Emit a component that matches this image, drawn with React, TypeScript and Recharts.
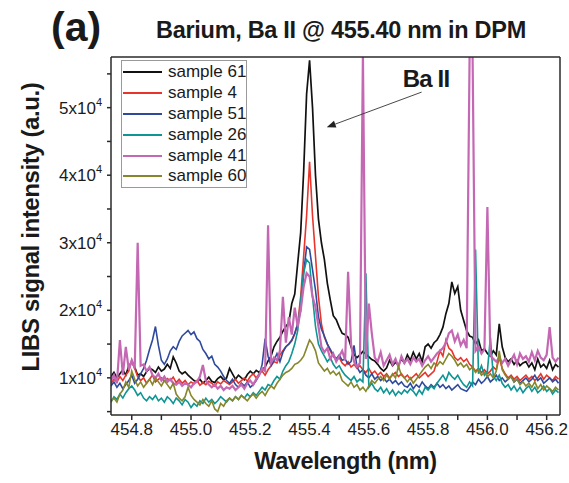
import { LineChart, Line, XAxis, YAxis, Legend, ReferenceLine, ReferenceDot } from 'recharts';

// wavelength grid (nm)
const wavelengths = [
  454.73, 454.74, 454.75, 454.76, 454.77, 454.78, 454.79, 454.80, 454.81, 454.82,
  454.83, 454.84, 454.85, 454.86, 454.87, 454.88, 454.89, 454.90, 454.91, 454.92,
  454.93, 454.94, 454.95, 454.96, 454.97, 454.98, 454.99, 455.00, 455.01, 455.02,
  455.03, 455.04, 455.05, 455.06, 455.07, 455.08, 455.09, 455.10, 455.11, 455.12,
  455.13, 455.14, 455.15, 455.16, 455.17, 455.18, 455.19, 455.20, 455.21, 455.22,
  455.23, 455.24, 455.25, 455.26, 455.27, 455.28, 455.29, 455.30, 455.31, 455.32,
  455.33, 455.34, 455.35, 455.36, 455.37, 455.38, 455.39, 455.40, 455.41, 455.42,
  455.43, 455.44, 455.45, 455.46, 455.47, 455.48, 455.49, 455.50, 455.51, 455.52,
  455.53, 455.54, 455.55, 455.56, 455.57, 455.58, 455.59, 455.60, 455.61, 455.62,
  455.63, 455.64, 455.65, 455.66, 455.67, 455.68, 455.69, 455.70, 455.71, 455.72,
  455.73, 455.74, 455.75, 455.76, 455.77, 455.78, 455.79, 455.80, 455.81, 455.82,
  455.83, 455.84, 455.85, 455.86, 455.87, 455.88, 455.89, 455.90, 455.91, 455.92,
  455.93, 455.94, 455.95, 455.96, 455.97, 455.98, 455.99, 456.00, 456.01, 456.02,
  456.03, 456.04, 456.05, 456.06, 456.07, 456.08, 456.09, 456.10, 456.11, 456.12,
  456.13, 456.14, 456.15, 456.16, 456.17, 456.18, 456.19, 456.20, 456.21, 456.22,
  456.23, 456.24,
];

// intensities in units of 10^3 a.u.
const sample61 = [
  10.2, 10.8, 10.0, 10.6, 11.2, 10.4, 11.8, 12.3, 11.6, 10.4,
  10.6, 10.2, 10.9, 11.4, 11.2, 10.8, 11.6, 11.0, 11.3, 12.0,
  11.4, 13.1, 12.2, 11.0, 10.6, 10.9, 10.4, 10.0, 9.6, 9.4,
  9.8, 9.2, 9.6, 10.1, 9.5, 9.3, 9.9, 10.2, 9.7, 10.0,
  11.4, 10.6, 9.8, 10.4, 10.0, 9.7, 10.5, 11.0, 10.6, 11.1,
  10.8, 11.2, 11.6, 12.5, 13.2, 14.6, 15.4, 16.0, 16.9, 17.6,
  18.2, 21.0, 22.4, 27.0, 31.5, 40.5, 52.0, 57.0, 50.0, 40.0,
  33.5, 30.0, 27.5, 24.0, 21.5, 19.2, 18.6, 17.5, 16.6, 16.4,
  16.0, 14.6, 13.4, 13.0, 13.4, 13.9, 13.5, 13.1, 12.7, 12.5,
  12.0, 11.4, 11.0, 11.5, 12.6, 11.8, 12.3, 11.9, 12.8, 12.2,
  13.4, 12.6, 13.8, 12.8, 13.6, 12.4, 14.6, 15.0, 14.4, 15.2,
  15.6, 16.4, 17.5, 19.5, 21.0, 24.2, 22.5, 23.5, 20.0, 18.5,
  17.0, 16.2, 16.0, 15.0, 15.6, 14.0, 14.3, 13.6, 13.2, 14.0,
  13.4, 18.0, 14.6, 13.0, 12.4, 12.8, 12.0, 12.6, 11.8, 12.2,
  12.4, 11.6, 12.2, 11.2, 12.8, 11.6, 12.0, 11.4, 12.6, 11.2,
  12.0, 11.6,
];

const sample4 = [
  9.2, 9.8, 9.4, 10.2, 9.6, 10.4, 11.0, 12.6, 11.4, 10.2,
  9.6, 10.0, 9.2, 9.8, 10.4, 9.4, 9.8, 10.0, 9.5, 9.9,
  9.6, 10.1, 9.3, 9.8, 9.2, 9.6, 9.0, 9.4, 9.1, 9.6,
  8.9, 9.3, 9.0, 9.5, 9.2, 8.8, 9.4, 9.1, 9.6, 9.3,
  9.0, 9.4, 9.8, 9.2, 9.6, 10.0, 9.5, 10.2, 10.6, 10.0,
  10.6, 11.0, 10.4, 11.2, 11.8, 12.4, 12.2, 13.4, 14.0, 14.6,
  15.0, 15.5, 16.5, 18.0, 22.0, 28.0, 34.0, 42.0, 34.0, 28.0,
  22.0, 18.0, 16.0, 15.0, 14.0, 13.2, 12.6, 13.0, 12.2, 11.8,
  12.4, 11.6, 12.0, 11.4, 11.8, 11.2, 10.8, 11.4, 10.6, 11.0,
  10.4, 10.8, 10.2, 10.6, 10.0, 10.4, 10.8, 10.2, 10.6, 10.0,
  10.4, 9.8, 10.2, 10.6, 10.0, 10.4, 10.8, 10.2, 10.6, 11.0,
  12.4, 14.0, 13.2, 15.6, 14.4, 14.0, 13.0, 12.6, 13.0, 12.4,
  12.8, 12.0, 11.6, 11.0, 11.4, 10.8, 11.2, 10.6, 11.0, 11.6,
  11.2, 13.0, 11.4, 10.6, 10.0, 10.4, 9.8, 10.2, 9.6, 10.0,
  10.4, 9.8, 10.2, 9.6, 10.0, 10.6, 9.8, 10.4, 10.0, 9.6,
  10.2, 9.8,
];

const sample51 = [
  8.8, 9.4, 8.6, 9.2, 8.4, 9.0, 9.6, 10.4, 9.2, 9.8,
  10.6, 11.4, 12.6, 14.2, 15.6, 17.6, 14.8, 12.6, 12.0, 12.8,
  14.0, 14.6, 14.2, 15.4, 16.2, 16.6, 17.0, 16.4, 16.8, 15.8,
  15.4, 14.2, 13.6, 12.8, 13.2, 12.0, 11.6, 11.0, 10.2, 9.6,
  9.2, 9.8, 9.0, 8.6, 9.2, 8.8, 9.4, 8.6, 9.0, 9.6,
  10.4, 12.0, 15.8, 13.2, 11.8, 12.6, 13.6, 12.4, 13.8, 14.6,
  15.0, 15.6, 16.6, 18.0, 20.0, 25.5, 29.4, 29.0, 26.0, 23.0,
  19.0, 17.2, 16.2, 15.0, 14.2, 13.4, 12.8, 13.4, 12.6, 12.8,
  12.0, 12.4, 14.8, 11.6, 10.8, 11.2, 10.4, 10.0, 10.6, 9.8,
  10.2, 9.6, 10.0, 9.4, 9.8, 9.2, 9.6, 9.0, 9.4, 8.8,
  8.6, 9.2, 8.4, 9.0, 8.6, 9.4, 8.8, 8.4, 9.0, 8.6,
  9.2, 8.6, 9.0, 8.4, 8.8, 8.2, 8.6, 9.0, 8.4, 8.2,
  8.0, 8.6, 9.4, 9.0, 9.8, 9.2, 9.6, 10.2, 9.4, 9.8,
  10.4, 9.6, 10.0, 9.4, 9.8, 10.2, 9.4, 9.8, 9.2, 9.6,
  10.0, 9.4, 9.8, 10.4, 9.6, 10.0, 9.2, 9.6, 10.0, 9.4,
  9.8, 9.2,
];

const sample26 = [
  6.4, 7.2, 6.8, 7.6, 7.0, 7.8, 8.4, 8.8, 8.2, 7.4,
  7.8, 7.0, 6.6, 7.2, 6.8, 7.4, 6.6, 7.0, 6.4, 7.2,
  6.8, 6.2, 7.0, 6.6, 6.0, 6.8, 6.4, 5.6, 6.2, 5.8,
  6.6, 6.2, 7.0, 6.4, 6.8, 6.2, 6.6, 7.2, 6.8, 6.4,
  7.0, 6.6, 7.2, 6.8, 7.4, 7.0, 7.6, 7.2, 7.8, 7.4,
  8.0, 8.6, 8.2, 9.0, 8.8, 9.6, 10.2, 9.8, 11.0, 11.8,
  12.4, 13.6, 15.0, 17.0, 21.5, 25.5, 27.5, 27.0, 22.0, 17.6,
  15.0, 14.0, 13.2, 12.4, 13.0, 12.0, 11.4, 11.8, 11.0, 10.4,
  10.0, 9.6, 10.2, 9.4, 9.8, 9.4, 25.5, 8.6, 9.2, 8.4,
  8.0, 8.6, 7.8, 8.4, 7.6, 8.2, 7.4, 8.0, 7.6, 8.2,
  7.8, 8.4, 8.0, 7.4, 8.2, 7.6, 8.6, 8.2, 8.8, 8.4,
  9.2, 9.8, 10.4, 9.6, 10.8, 10.2, 9.8, 10.4, 9.6, 9.0,
  8.6, 9.4, 8.8, 29.0, 10.6, 11.8, 10.4, 11.0, 16.0, 10.2,
  9.6, 10.4, 9.2, 8.6, 9.0, 8.2, 8.8, 8.0, 8.6, 7.8,
  8.4, 8.8, 8.0, 8.6, 7.8, 8.2, 8.8, 8.0, 8.4, 7.6,
  8.2, 7.8,
];

const sample41 = [
  9.6, 10.4, 9.2, 15.6, 10.4, 14.6, 11.2, 12.6, 11.4, 30.0,
  11.8, 12.0, 11.0, 11.6, 10.4, 10.0, 10.6, 9.6, 10.2, 9.4,
  9.8, 9.2, 9.0, 9.4, 8.8, 9.2, 9.0, 8.6, 9.2, 9.4,
  10.2, 11.9, 9.6, 9.0, 8.6, 9.0, 8.4, 8.8, 8.2, 8.6,
  8.4, 8.8, 8.2, 8.6, 9.0, 8.4, 9.2, 9.6, 9.0, 9.8,
  10.4, 11.4, 11.0, 32.6, 12.2, 13.0, 12.6, 14.0, 22.0, 15.2,
  19.0, 16.4, 20.4, 17.6, 20.0, 23.5, 25.5, 25.0, 22.0, 20.5,
  17.6, 14.6, 13.8, 14.4, 12.8, 13.6, 12.4, 13.2, 14.0, 12.6,
  25.7, 15.0, 12.4, 11.6, 12.2, 58.0, 12.8, 21.0, 16.6, 13.0,
  12.4, 13.8, 11.8, 12.6, 13.4, 12.0, 12.8, 11.6, 13.2, 12.2,
  12.8, 12.0, 13.0, 12.4, 12.8, 11.8, 12.6, 13.2, 12.4, 13.0,
  13.6, 14.0, 14.4, 15.2, 16.6, 17.0, 15.4, 16.4, 14.8, 15.6,
  14.4, 58.0, 58.0, 14.0, 14.6, 13.6, 14.2, 35.3, 13.4, 12.8,
  12.4, 13.0, 12.2, 12.8, 11.8, 12.6, 13.4, 12.0, 13.6, 12.8,
  13.2, 12.4, 13.8, 12.6, 14.0, 13.0, 12.6, 13.4, 17.5, 13.0,
  12.4, 13.0,
];

const sample60 = [
  6.6, 7.0, 6.4, 7.6, 8.2, 9.4, 8.6, 11.0, 9.8, 8.8,
  9.4, 8.6, 9.2, 9.8, 9.0, 10.0, 9.4, 8.8, 9.6, 9.0,
  8.4, 9.2, 7.6, 7.0, 6.6, 7.2, 8.6, 7.4, 6.8, 6.4,
  6.0, 6.8, 6.2, 5.8, 6.6, 5.4, 5.0, 6.2, 5.8, 6.6,
  7.0, 6.6, 7.2, 6.8, 7.4, 7.0, 6.6, 7.2, 7.6, 7.0,
  7.6, 8.0, 7.4, 8.2, 8.8, 8.4, 9.2, 9.8, 10.4, 10.8,
  11.0, 11.4, 12.0, 12.2, 12.6, 13.2, 14.4, 15.6, 15.0, 14.0,
  12.2, 11.6, 11.0, 11.4, 10.6, 11.0, 10.4, 10.8, 9.6, 9.2,
  8.8, 9.4, 8.6, 9.0, 8.2, 8.6, 8.0, 8.8, 9.6, 9.2,
  9.8, 10.2, 9.6, 10.4, 9.8, 10.6, 10.0, 11.7, 10.4, 10.0,
  9.4, 10.0, 9.2, 9.8, 10.4, 11.0, 11.6, 12.0, 11.4, 12.2,
  11.8, 12.4, 12.0, 12.8, 13.6, 13.2, 12.6, 11.8, 12.2, 11.6,
  12.0, 11.2, 11.6, 10.8, 11.2, 10.4, 10.8, 10.2, 10.6, 10.0,
  11.0, 14.0, 11.2, 10.4, 9.8, 10.2, 9.4, 9.8, 9.0, 9.4,
  8.8, 9.2, 8.6, 9.4, 8.4, 9.0, 8.2, 8.8, 8.4, 8.0,
  8.6, 8.2,
];

const xTicks = [454.8, 454.9, 455.0, 455.1, 455.2, 455.3, 455.4, 455.5, 455.6, 455.7, 455.8, 455.9, 456.0, 456.1, 456.2];
const xLabels = ['454.8', '', '455.0', '', '455.2', '', '455.4', '', '455.6', '', '455.8', '', '456.0', '', '456.2'];
const yTicks = [5, 10, 15, 20, 25, 30, 35, 40, 45, 50, 55];
const yLabels = ['', '1', '', '2', '', '3', '', '4', '', '5', ''];

const series = [
  { key: 'sample61', name: 'sample 61', color: '#111111', width: 1.7 },
  { key: 'sample4', name: 'sample 4', color: '#e8352c', width: 1.6 },
  { key: 'sample51', name: 'sample 51', color: '#2f4a9c', width: 1.6 },
  { key: 'sample26', name: 'sample 26', color: '#0e9594', width: 1.6 },
  { key: 'sample41', name: 'sample 41', color: '#c468b4', width: 2.2 },
  { key: 'sample60', name: 'sample 60', color: '#86862a', width: 1.6 },
];

const values: Record<string, number[]> = { sample61, sample4, sample51, sample26, sample41, sample60 };

const data = wavelengths.map((w, i) => {
  const row: Record<string, number> = { w };
  series.forEach((s) => {
    row[s.key] = values[s.key][i];
  });
  return row;
});

const FONT = '"Liberation Sans", Arial, sans-serif';

const XTick = (props: any) => {
  const { x, y, payload } = props;
  const label = xLabels[xTicks.indexOf(payload.value)] || '';
  return (
    <text x={x} y={y + 13} textAnchor="middle" fontFamily={FONT} fontSize={17} fill="#1a1a1a">
      {label}
    </text>
  );
};

const YTick = (props: any) => {
  const { x, y, payload } = props;
  const label = yLabels[yTicks.indexOf(payload.value)] || '';
  if (!label) return null;
  return (
    <text x={x - 3} y={y + 6} textAnchor="end" fontFamily={FONT} fontSize={17} fill="#1a1a1a">
      {label}x10
      <tspan fontSize={11} dy={-8}>4</tspan>
    </text>
  );
};

const renderLegend = () => (
  <div
    style={{
      width: 124,
      height: 125,
      border: '1px solid #9a9a9a',
      background: '#fff',
      fontFamily: FONT,
      fontSize: 17,
      color: '#1a1a1a',
      paddingTop: 1,
      whiteSpace: 'nowrap',
    }}
  >
    {series.map((s) => (
      <div key={s.key} style={{ display: 'flex', alignItems: 'center', height: 20.8 }}>
        <div style={{ width: 39, height: 0, flex: 'none', borderTop: `2px solid ${s.color}`, marginLeft: 1, marginRight: 6 }} />
        <span>{s.name}</span>
      </div>
    ))}
  </div>
);

const arrowShape = (props: any) => {
  const { x1, y1, x2, y2 } = props;
  const ang = Math.atan2(y2 - y1, x2 - x1);
  const len = 9;
  const hw = 3.5;
  const bx = x2 - len * Math.cos(ang);
  const by = y2 - len * Math.sin(ang);
  const px = -Math.sin(ang) * hw;
  const py = Math.cos(ang) * hw;
  return (
    <g>
      <line x1={x1} y1={y1} x2={bx} y2={by} stroke="#333" strokeWidth={0.9} />
      <polygon points={`${x2},${y2} ${bx + px},${by + py} ${bx - px},${by - py}`} fill="#222" />
    </g>
  );
};

export default function App() {
  return (
    <div style={{ position: 'absolute', left: 0, top: 0, width: 569, height: 483, background: '#fff' }}>
      <div style={{ position: 'absolute', left: 51, top: 4, fontFamily: FONT, fontWeight: 'bold', fontSize: 41, color: '#1a1a1a' }}>
        (a)
      </div>
      <div
        style={{
          position: 'absolute',
          left: 0,
          width: 682,
          top: 17,
          textAlign: 'center',
          fontFamily: FONT,
          fontWeight: 'bold',
          fontSize: 23.5,
          color: '#1a1a1a',
          letterSpacing: -0.3,
        }}
      >
        Barium, Ba II @ 455.40 nm in DPM
      </div>
      <LineChart width={569} height={483} data={data} margin={{ top: 56, right: 8, bottom: 38, left: 51 }}>
        <XAxis
          dataKey="w"
          type="number"
          domain={[454.73, 456.245]}
          ticks={xTicks}
          allowDataOverflow
          height={30}
          tickSize={5}
          tick={<XTick />}
          stroke="#2a2a2a"
          strokeWidth={1.5}
          interval={0}
        />
        <XAxis xAxisId="top" orientation="top" dataKey="w" type="number" domain={[454.73, 456.245]} height={1} tick={false} tickLine={false} stroke="#2a2a2a" strokeWidth={1.5} />
        <YAxis
          type="number"
          domain={[4.5, 57.5]}
          ticks={yTicks}
          allowDataOverflow
          width={60}
          tickSize={4}
          tick={<YTick />}
          stroke="#2a2a2a"
          strokeWidth={1.5}
          interval={0}
        />
        <YAxis yAxisId="right" orientation="right" type="number" domain={[4.5, 57.5]} width={1} tick={false} tickLine={false} stroke="#2a2a2a" strokeWidth={1.5} />
        {series.map((s) => (
          <Line
            key={s.key}
            type="linear"
            dataKey={s.key}
            name={s.name}
            stroke={s.color}
            strokeWidth={s.width}
            dot={false}
            activeDot={false}
            isAnimationActive={false}
          />
        ))}
        <ReferenceLine
          segment={[
            { x: 455.778, y: 52.3 },
            { x: 455.458, y: 47.1 },
          ]}
          shape={arrowShape}
        />
        <ReferenceDot
          x={455.714}
          y={53.1}
          shape={(p: any) => (
            <text x={p.cx} y={p.cy} fontFamily={FONT} fontWeight="bold" fontSize={24} letterSpacing={-0.8} fill="#1a1a1a">
              Ba II
            </text>
          )}
        />
        <Legend
          layout="vertical"
          align="center"
          verticalAlign="middle"
          content={renderLegend}
          wrapperStyle={{ position: 'absolute', left: 121, top: 60, width: 126, height: 127 }}
        />
      </LineChart>
      <div
        style={{
          position: 'absolute',
          left: 111,
          width: 469,
          top: 448,
          textAlign: 'center',
          fontFamily: FONT,
          fontWeight: 'bold',
          fontSize: 23.5,
          color: '#1a1a1a',
          letterSpacing: -0.4,
        }}
      >
        Wavelength (nm)
      </div>
      <div
        style={{
          position: 'absolute',
          left: 31,
          top: 227,
          transform: 'translate(-50%, -50%) rotate(-90deg)',
          whiteSpace: 'nowrap',
          fontFamily: FONT,
          fontWeight: 'bold',
          fontSize: 24,
          color: '#1a1a1a',
          letterSpacing: -0.4,
        }}
      >
        LIBS signal intensity (a.u.)
      </div>
    </div>
  );
}
